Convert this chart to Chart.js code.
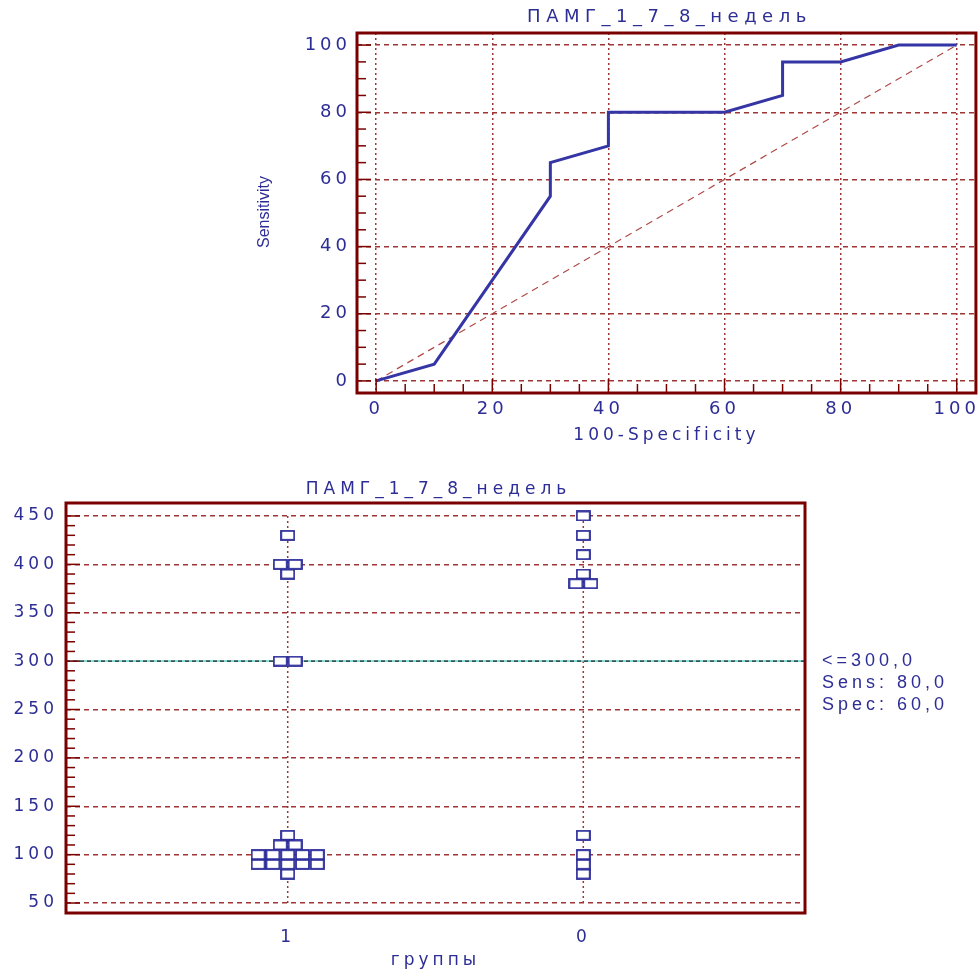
<!DOCTYPE html>
<html>
<head>
<meta charset="utf-8">
<script src="https://cdn.jsdelivr.net/npm/chart.js@4/dist/chart.umd.min.js"></script>
<style>
  body { margin: 0; background: #fff; }
  canvas { position: absolute; left: 0; }
  #roc { top: 0; }
  #dots { top: 470px; }
</style>
</head>
<body>
<canvas id="roc" width="980" height="460"></canvas>
<canvas id="dots" width="980" height="504"></canvas>
<script>
// ROC curve
const chartTitle = 'ПАМГ_1_7_8_недель';
const fpr = [0, 10, 30, 30, 40, 40, 60, 70, 70, 80, 90, 100];
const tpr = [0, 5, 55, 65, 70, 80, 80, 85, 95, 95, 100, 100];
const refX = [0, 100];
const refY = [0, 100];
const rocTicks = [0, 20, 40, 60, 80, 100];

// dot plot
const groupLabels = ['1', '0'];
const group1Values = [430, 400, 400, 390, 300, 300, 120, 110, 110, 100, 100, 100, 100, 100, 90, 90, 90, 90, 90, 80];
const group0Values = [450, 430, 410, 390, 380, 380, 120, 100, 90, 80];
const valueTicks = [50, 100, 150, 200, 250, 300, 350, 400, 450];
const cutoff = 300;
const cutoffText = ['<=300,0', 'Sens: 80,0', 'Spec: 60,0'];

const textColor = '#2d2d96';
const frameColor = '#7a0000';
const gridColor = '#a03535';
const font = 'DejaVu Sans, Verdana, sans-serif';
const narrow = 'Liberation Sans, Arial, sans-serif';

function fixedTicks(list) {
    return s => { s.ticks = list.map(v => ({ value: v })); };
}

// frame, minor ticks and free text
function framePlugin(cfg) {
    return {
        id: 'frame',
        beforeDraw(chart) {
            chart.ctx.letterSpacing = cfg.spacing;
        },
        afterDraw(chart) {
            const ctx = chart.ctx, a = chart.chartArea;
            const x = chart.scales.x, y = chart.scales.y;
            ctx.save();
            ctx.strokeStyle = frameColor;
            ctx.lineWidth = 1.5;
            for (let v = cfg.yMin; v <= cfg.yMax; v += cfg.yMinor) {
                const py = y.getPixelForValue(v);
                const len = v % cfg.yMajor === 0 ? 14 : 9;
                ctx.beginPath(); ctx.moveTo(a.left, py); ctx.lineTo(a.left + len, py); ctx.stroke();
            }
            if (cfg.xMinor) {
                for (let v = cfg.xMin; v <= cfg.xMax; v += cfg.xMinor) {
                    const px = x.getPixelForValue(v);
                    const len = v % cfg.xMajor === 0 ? 14 : 9;
                    ctx.beginPath(); ctx.moveTo(px, a.bottom); ctx.lineTo(px, a.bottom - len); ctx.stroke();
                }
            }
            ctx.lineWidth = 3;
            ctx.strokeRect(a.left, a.top, a.right - a.left, a.bottom - a.top);

            ctx.fillStyle = textColor;
            ctx.textAlign = 'center';
            ctx.textBaseline = 'middle';
            ctx.font = cfg.titleFont;
            ctx.letterSpacing = cfg.titleSpacing;
            ctx.fillText(chartTitle, (a.left + a.right) / 2 + 3, cfg.titleY);
            if (cfg.draw) cfg.draw(chart, ctx, a);
            ctx.restore();
        }
    };
}

new Chart(document.getElementById('roc'), {
    type: 'scatter',
    data: {
        datasets: [{
            data: fpr.map((v, i) => ({ x: v, y: tpr[i] })),
            showLine: true,
            borderColor: '#3535a5',
            borderWidth: 3,
            pointRadius: 0
        }, {
            data: refX.map((v, i) => ({ x: v, y: refY[i] })),
            showLine: true,
            borderColor: '#b04a4a',
            borderWidth: 1.2,
            borderDash: [7, 5],
            pointRadius: 0
        }]
    },
    options: {
        responsive: false,
        animation: false,
        devicePixelRatio: 1,
        layout: { padding: { left: 250, top: 33, right: 2, bottom: 0 } },
        plugins: { legend: { display: false }, tooltip: { enabled: false } },
        scales: {
            x: {
                type: 'linear', min: -3.3, max: 103.3,
                afterBuildTicks: fixedTicks(rocTicks),
                afterFit: s => { s.height = 67; },
                grid: { color: gridColor, lineWidth: 1.5, drawTicks: false },
                border: { display: false, dash: [2, 3] },
                ticks: { color: textColor, font: { family: font, size: 18 }, padding: 6 },
                title: { display: true, text: '100-Specificity', color: textColor,
                    font: { family: font, size: 17 }, padding: { top: 0, bottom: 14 } }
            },
            y: {
                type: 'linear', min: -3.6, max: 103.6,
                afterBuildTicks: fixedTicks(rocTicks),
                afterFit: s => { s.width = 107; },
                grid: { color: gridColor, lineWidth: 1.5, drawTicks: false },
                border: { display: false, dash: [5, 4] },
                ticks: { color: textColor, font: { family: font, size: 18 }, padding: 6 }
            }
        }
    },
    plugins: [framePlugin({
        spacing: '4px', titleSpacing: '5.5px', titleY: 17, titleFont: '18px ' + font,
        yMin: 0, yMax: 100, yMinor: 5, yMajor: 20,
        xMin: 0, xMax: 100, xMinor: 5, xMajor: 20,
        draw(chart, ctx) {
            ctx.letterSpacing = '0px';
            ctx.font = '16px ' + narrow;
            ctx.translate(265, 212);
            ctx.rotate(-Math.PI / 2);
            ctx.fillText('Sensitivity', 0, 0);
        }
    })]
});

// spread equal values side by side, like a dot plot
function spread(values, centre) {
    const counts = {}, seen = {};
    values.forEach(v => { counts[v] = (counts[v] || 0) + 1; });
    return values.map(v => {
        const i = seen[v] = (seen[v] || 0) + 1;
        return { x: centre + (i - 1 - (counts[v] - 1) / 2) * 0.05, y: v };
    });
}

const box = document.createElement('canvas');
box.width = 15; box.height = 11;
const bctx = box.getContext('2d');
bctx.fillStyle = '#fff';
bctx.fillRect(1, 1, 13, 9);
bctx.strokeStyle = '#2a2a9a';
bctx.lineWidth = 1.8;
bctx.strokeRect(1, 1, 13, 9);

new Chart(document.getElementById('dots'), {
    type: 'scatter',
    data: {
        datasets: [{
            data: spread(group1Values, 1).concat(spread(group0Values, 2)),
            pointStyle: box,
            pointRadius: 6
        }, {
            data: [{ x: 0.25, y: cutoff }, { x: 2.75, y: cutoff }],
            showLine: true,
            borderColor: '#222',
            borderWidth: 1.2,
            borderDash: [4, 3],
            pointRadius: 0
        }, {
            data: [{ x: 0.25, y: cutoff }, { x: 2.75, y: cutoff }],
            showLine: true,
            borderColor: '#5fd0d0',
            borderWidth: 1.5,
            pointRadius: 0
        }]
    },
    options: {
        responsive: false,
        animation: false,
        devicePixelRatio: 1,
        layout: { padding: { left: 0, top: 33, right: 175, bottom: 0 } },
        plugins: { legend: { display: false }, tooltip: { enabled: false } },
        scales: {
            x: {
                type: 'linear', min: 0.25, max: 2.75,
                afterBuildTicks: fixedTicks([1, 2]),
                afterFit: s => { s.height = 61; },
                grid: { display: false },
                border: { display: false },
                ticks: { color: textColor, font: { family: font, size: 17 }, padding: 6,
                    callback: v => groupLabels[v - 1] },
                title: { display: true, text: 'группы', color: textColor,
                    font: { family: font, size: 17 }, padding: { top: 0, bottom: 3 } }
            },
            y: {
                type: 'linear', min: 39.7, max: 463.4,
                afterBuildTicks: fixedTicks(valueTicks),
                afterFit: s => { s.width = 66; },
                grid: { color: c => c.tick && c.tick.value === cutoff ? 'rgba(0,0,0,0)' : gridColor,
                    lineWidth: 1.5, drawTicks: false },
                border: { display: false, dash: [5, 4] },
                ticks: { color: textColor, font: { family: font, size: 17 }, padding: 8 }
            }
        }
    },
    plugins: [{
        id: 'groupLines',
        beforeDatasetsDraw(chart) {
            const ctx = chart.ctx, x = chart.scales.x, y = chart.scales.y;
            ctx.save();
            ctx.strokeStyle = gridColor;
            ctx.lineWidth = 1.5;
            ctx.setLineDash([2, 3]);
            [1, 2].forEach(g => {
                const px = x.getPixelForValue(g);
                ctx.beginPath();
                ctx.moveTo(px, y.getPixelForValue(valueTicks[valueTicks.length - 1]));
                ctx.lineTo(px, y.getPixelForValue(valueTicks[0]));
                ctx.stroke();
            });
            ctx.restore();
        }
    }, framePlugin({
        spacing: '4px', titleSpacing: '5px', titleY: 20, titleFont: '17px ' + font,
        yMin: 50, yMax: 450, yMinor: 10, yMajor: 50,
        draw(chart, ctx, a) {
            ctx.letterSpacing = '4px';
            ctx.font = '18px ' + narrow;
            ctx.textAlign = 'left';
            const py = chart.scales.y.getPixelForValue(cutoff);
            cutoffText.forEach((t, i) => ctx.fillText(t, a.right + 17, py + i * 22));
        }
    })]
});
</script>
</body>
</html>
